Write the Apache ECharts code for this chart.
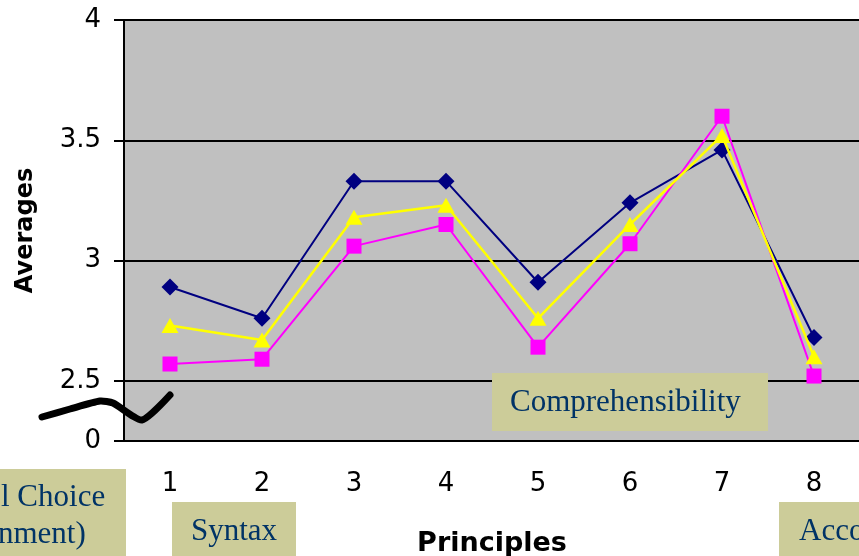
<!DOCTYPE html>
<html>
<head>
<meta charset="utf-8">
<script src="https://cdn.jsdelivr.net/npm/echarts@6/dist/echarts.min.js"></script>
<style>
html,body{margin:0;padding:0;background:#fff;}
#chart{width:859px;height:556px;}
</style>
</head>
<body>
<div id="chart"></div>
<script>
// Data
var categories = ['1', '2', '3', '4', '5', '6', '7', '8'];
var seriesNavy = [2.89, 2.76, 3.33, 3.33, 2.91, 3.24, 3.46, 2.68];
var seriesYellow = [2.73, 2.67, 3.18, 3.23, 2.76, 3.15, 3.52, 2.60];
var seriesMagenta = [2.57, 2.59, 3.06, 3.15, 2.64, 3.07, 3.60, 2.52];
var yTickValues = [2.25, 2.5, 3, 3.5, 4];
var yTickLabels = ['0', '2.5', '3', '3.5', '4'];
var xAxisTitle = 'Principles';
var yAxisTitle = 'Averages';

var chart = echarts.init(document.getElementById('chart'), null, {renderer: 'canvas'});

var boxColor = '#cccc99';
var boxText = '#003366';
var serif = '"Liberation Serif", "Times New Roman", serif';

function box(x, y, w, h) {
  return {type: 'rect', shape: {x: x, y: y, width: w, height: h}, style: {fill: boxColor}, z: 100, silent: true};
}
function label(text, x, y) {
  return {type: 'text', x: x, y: y, style: {text: text, fill: boxText, font: '31px ' + serif, textVerticalAlign: 'middle', textAlign: 'left'}, z: 101, silent: true};
}

var option = {
  animation: false,
  backgroundColor: '#ffffff',
  grid: {
    left: 124, top: 20, width: 736, height: 421,
    containLabel: false, outerBoundsMode: 'none',
    show: true, backgroundColor: '#c0c0c0', borderColor: '#808080', borderWidth: 1
  },
  xAxis: {
    type: 'category',
    data: categories,
    boundaryGap: true,
    name: xAxisTitle,
    nameLocation: 'middle',
    nameGap: 89,
    nameTextStyle: {fontFamily: '"DejaVu Sans", sans-serif', fontWeight: 'bold', fontSize: 27, color: '#000'},
    axisLine: {lineStyle: {color: '#000', width: 2}},
    axisTick: {length: 9, lineStyle: {color: '#000', width: 2}},
    axisLabel: {fontFamily: '"DejaVu Sans", sans-serif', fontSize: 26, color: '#000', margin: 30},
    splitLine: {show: false}
  },
  yAxis: {
    type: 'value',
    min: 2.25, max: 4, interval: 0.25,
    name: yAxisTitle,
    nameLocation: 'middle',
    nameGap: 86,
    nameTextStyle: {fontFamily: '"DejaVu Sans", sans-serif', fontWeight: 'bold', fontSize: 24, color: '#000'},
    axisLine: {show: true, lineStyle: {color: '#000', width: 2}},
    axisTick: {show: true, length: 10, customValues: yTickValues, lineStyle: {color: '#000', width: 2}},
    axisLabel: {
      customValues: yTickValues,
      fontFamily: '"DejaVu Sans", sans-serif', fontSize: 26, color: '#000', margin: 23,
      formatter: function (v) {
        for (var i = 0; i < yTickValues.length; i++) {
          if (Math.abs(yTickValues[i] - v) < 1e-9) return yTickLabels[i];
        }
        return '';
      }
    },
    splitLine: {show: true, lineStyle: {color: '#000', width: 2}}
  },
  series: [
    {
      type: 'line', name: 'A', data: seriesNavy,
      symbol: 'diamond', symbolSize: [17, 17],
      lineStyle: {color: '#000080', width: 2},
      itemStyle: {color: '#000080'},
      emphasis: {disabled: true}, z: 2
    },
    {
      type: 'line', name: 'C', data: seriesMagenta,
      symbol: 'rect', symbolSize: [15, 15],
      lineStyle: {color: '#ff00ff', width: 2},
      itemStyle: {color: '#ff00ff'},
      emphasis: {disabled: true}, z: 3
    },
    {
      type: 'line', name: 'B', data: seriesYellow,
      symbol: 'triangle', symbolSize: [17, 15],
      lineStyle: {color: '#ffff00', width: 2.5},
      itemStyle: {color: '#ffff00'},
      emphasis: {disabled: true}, z: 4
    }
  ],
  graphic: [
    {
      type: 'polyline', z: 50, silent: true,
      shape: {points: [[42, 417], [70, 409], [100, 401], [113, 403], [142, 420], [170, 395]], smooth: 0.2},
      style: {stroke: '#000', lineWidth: 7, fill: null, lineCap: 'round', lineJoin: 'round'}
    },
    box(492, 373, 276, 58),
    label('Comprehensibility', 510, 403),
    box(172, 502, 124, 60),
    label('Syntax', 191, 532),
    box(0, 469, 126, 90),
    label('l Choice', 1, 498),
    label('nment)', -2, 535),
    box(779, 502, 90, 60),
    label('Acco', 799, 532)
  ]
};
chart.setOption(option);
</script>
</body>
</html>
